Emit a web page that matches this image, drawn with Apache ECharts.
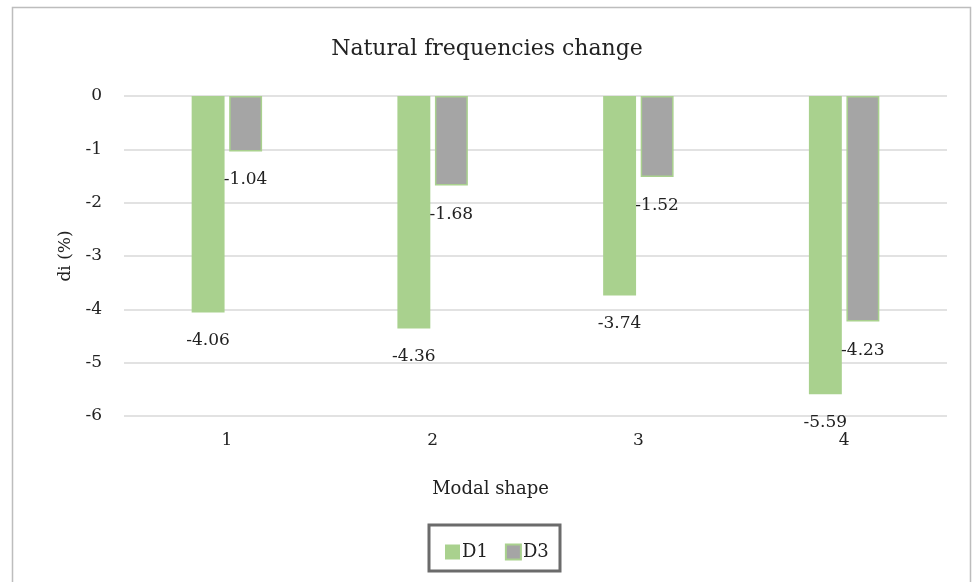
<!DOCTYPE html>
<html>
<head>
<meta charset="utf-8">
<script src="https://cdn.jsdelivr.net/npm/echarts@6/dist/echarts.min.js"></script>
<style>
html,body{margin:0;padding:0;background:#fff;}
#c{width:974px;height:582px;}
</style>
</head>
<body>
<div id="c"></div>
<script>
var categories = ['1', '2', '3', '4'];
var d1 = [-4.06, -4.36, -3.74, -5.59];
var d3 = [-1.04, -1.68, -1.52, -4.23];

var FONT = '"DejaVu Serif", "Liberation Serif", serif';
var chart = echarts.init(document.getElementById('c'));
var labelCfg = {
  show: true, position: 'bottom', distance: 20,
  fontFamily: FONT, fontSize: 17, color: '#222',
  formatter: function (p) { return p.value.toFixed(2); }
};
chart.setOption({
  backgroundColor: '#fff',
  animation: false,
  title: {
    text: 'Natural frequencies change', left: 'center', top: 33,
    textStyle: { fontFamily: FONT, fontSize: 22, fontWeight: 'normal', color: '#222' }
  },
  graphic: [{
    type: 'rect', shape: { x: 12.5, y: 7.5, width: 958, height: 600 },
    style: { fill: 'none', stroke: '#bdbdbd', lineWidth: 1.5 }, silent: true
  }, {
    type: 'rect', shape: { x: 429, y: 525, width: 131, height: 46 },
    style: { fill: '#fff', stroke: '#6b6b6b', lineWidth: 3 }, silent: true, z: 0
  }],
  grid: { left: 124, right: 27, top: 96, bottom: 166, containLabel: false },
  legend: {
    top: 538, left: 440, itemWidth: 15, itemHeight: 15, itemGap: 17,
    icon: 'rect', z: 10,
    textStyle: { fontFamily: FONT, fontSize: 18, color: '#222', padding: [0, 0, 0, -3] },
    data: ['D1', 'D3']
  },
  xAxis: {
    type: 'category', data: categories, position: 'bottom',
    name: 'Modal shape', nameLocation: 'middle', nameGap: 64,
    nameTextStyle: { fontFamily: FONT, fontSize: 18, color: '#222', padding: [0, 90, 0, 0] },
    axisLine: { show: false }, axisTick: { show: false },
    axisLabel: { fontFamily: FONT, fontSize: 17, color: '#222', margin: 16 }
  },
  yAxis: {
    type: 'value', min: -6, max: 0, interval: 1,
    name: 'di (%)', nameLocation: 'middle', nameGap: 48, nameRotate: 90,
    nameTextStyle: { fontFamily: FONT, fontSize: 17, color: '#222' },
    axisLine: { show: false }, axisTick: { show: false },
    axisLabel: { fontFamily: FONT, fontSize: 17, color: '#222', margin: 22 },
    splitLine: { lineStyle: { color: '#d9d9d9', width: 1.5 } }
  },
  series: [{
    name: 'D1', type: 'bar', data: d1, barWidth: '16%', barGap: '14%',
    itemStyle: { color: '#a9d18e' }, label: labelCfg
  }, {
    name: 'D3', type: 'bar', data: d3, barWidth: '16%',
    itemStyle: { color: '#a5a5a5', borderColor: '#a9d18e', borderWidth: 1.5 }, label: labelCfg
  }]
});
</script>
</body>
</html>
